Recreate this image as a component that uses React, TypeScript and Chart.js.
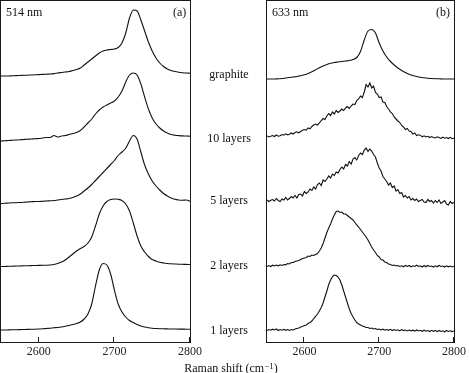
import React, { useEffect, useRef } from "react";
import { Chart, registerables } from "chart.js";

Chart.register(...registerables);

const FONT = '"Liberation Serif", "Times New Roman", serif';
const X_MIN = 2550;
const X_MAX = 2800;
const X_TICKS = [2600, 2700, 2800];
const Y_MAX = 342;

// Raman shift grids (cm-1)
const X5 = [
  2550, 2555, 2560, 2565, 2570, 2575, 2580, 2585, 2590, 2595,
  2600, 2605, 2610, 2615, 2620, 2625, 2630, 2635, 2640, 2645,
  2650, 2655, 2660, 2665, 2670, 2675, 2680, 2685, 2690, 2695,
  2700, 2705, 2710, 2715, 2720, 2725, 2730, 2735, 2740, 2745,
  2750, 2755, 2760, 2765, 2770, 2775, 2780, 2785, 2790, 2795,
  2800,
];
const X25 = [
  2550, 2552.5, 2555, 2557.5, 2560, 2562.5, 2565, 2567.5, 2570, 2572.5,
  2575, 2577.5, 2580, 2582.5, 2585, 2587.5, 2590, 2592.5, 2595, 2597.5,
  2600, 2602.5, 2605, 2607.5, 2610, 2612.5, 2615, 2617.5, 2620, 2622.5,
  2625, 2627.5, 2630, 2632.5, 2635, 2637.5, 2640, 2642.5, 2645, 2647.5,
  2650, 2652.5, 2655, 2657.5, 2660, 2662.5, 2665, 2667.5, 2670, 2672.5,
  2675, 2677.5, 2680, 2682.5, 2685, 2687.5, 2690, 2692.5, 2695, 2697.5,
  2700, 2702.5, 2705, 2707.5, 2710, 2712.5, 2715, 2717.5, 2720, 2722.5,
  2725, 2727.5, 2730, 2732.5, 2735, 2737.5, 2740, 2742.5, 2745, 2747.5,
  2750, 2752.5, 2755, 2757.5, 2760, 2762.5, 2765, 2767.5, 2770, 2772.5,
  2775, 2777.5, 2780, 2782.5, 2785, 2787.5, 2790, 2792.5, 2795, 2797.5,
  2800,
];

// (a) 514 nm — offset intensities (a.u.)
const A_GRAPHITE = [
  266, 266, 266, 266.2, 266.4, 266.5, 266.7, 266.8, 267, 267.2,
  267.4, 267.6, 267.8, 268, 268.4, 269, 269.5, 270, 270.5, 271.5,
  272.5, 274, 277, 280, 283, 286, 289, 291, 292, 292.5,
  293, 294.5, 299, 309, 324, 332, 331, 322, 311, 300,
  291, 284, 279, 275.5, 273, 271.5, 270.5, 269.8, 269.3, 269,
  268.8,
];
const A_10L = [
  201, 201.3, 201.5, 201.8, 202, 202.2, 202.5, 202.8, 203, 203.3,
  203.5, 204, 204.5, 204.5, 206.5, 205, 206, 206.5, 207.5, 208.5,
  209.5, 211.5, 215, 219, 223, 228, 232, 235, 237, 239,
  241, 245, 251, 260, 267, 269, 267, 258, 245, 233,
  224, 218, 214, 211, 209, 207.5, 206.8, 206.4, 206.1, 206,
  205.8,
];
const A_5L = [
  138.5, 138.7, 139, 139.2, 139.3, 139.5, 139.7, 140, 140.2, 140.5,
  140.5, 140.7, 141, 141.2, 141.5, 142, 142.5, 143, 143.5, 144.5,
  146, 148, 151, 154, 157.5, 161.5, 165.5, 169.5, 173.5, 177.5,
  181.5, 186.5, 190, 194, 201, 206.5, 203, 190, 177, 168,
  161, 156, 152, 148.5, 146, 144, 142.7, 142, 141.7, 142,
  140.8,
];
const A_2L = [
  75.5, 75.5, 75.7, 75.8, 76, 76, 76.2, 76.3, 76.4, 76.5,
  76.6, 76.7, 76.8, 77, 77.5, 78.5, 80, 82, 85, 88,
  91, 93.5, 95.5, 99, 105, 116, 128, 136, 140.5, 142.5,
  143, 142.7, 141.5, 138, 131, 119, 106, 96, 90, 85.5,
  82.5, 81, 79.7, 79, 78.5, 78.2, 78, 77.8, 77.7, 77.6,
  77.5,
];
const A_1L = [
  12, 12, 12.1, 12.2, 12.3, 12.4, 12.5, 12.6, 12.7, 12.8,
  13, 13.2, 13.5, 13.8, 14.2, 14.5, 15, 15.7, 16.5, 17.5,
  18.5, 20, 23, 28, 38, 56, 72, 78.5, 77, 68,
  52, 38, 30, 25, 21.5, 19.5, 17.5, 16, 15, 14.3,
  13.8, 13.5, 13.3, 13.2, 13.1, 13, 13, 12.9, 12.9, 12.8,
  12.8,
];

// (b) 633 nm — offset intensities (a.u.)
const B_GRAPHITE = [
  263, 263, 263, 263.2, 263.5, 264, 264.5, 265, 265.5, 266.2,
  267.2, 268.5, 270.2, 272.2, 274.2, 276, 277.5, 278.7, 279.5, 280,
  280.5, 281, 281.5, 282.5, 284.5, 290.5, 302, 311, 312.5, 309,
  299, 291, 285, 280.5, 277, 274, 271.5, 269.5, 267.8, 266.5,
  265.5, 264.7, 264.2, 263.8, 263.5, 263.3, 263.2, 263, 263, 263,
  263,
];
const B_10L = [
  206, 205, 205.8, 206.5, 205.5, 207, 205.8, 206.3, 207.5, 206.8,
  208.2, 207.2, 207.8, 209, 208, 209.5, 210.2, 209.2, 210.5, 211.8,
  212.5, 211.8, 214, 213.2, 215.5, 217, 218, 217, 219, 221.5,
  223.5, 222.5, 226, 228.5, 226.5, 230, 228, 231.5, 229.5, 231,
  233, 231.5, 234, 235.5, 233.5, 236, 238, 237.5, 241.5, 243,
  246, 244.5, 250, 257.5, 255, 259, 254, 256, 249.5, 248,
  244.5, 245, 240, 239.5, 235.5, 233, 230, 228.5, 225, 223,
  221, 219.5, 216.5, 215, 212.5, 213.5, 211, 210.5, 208, 209,
  206.5, 207.2, 206.8, 205.2, 206.2, 205, 205.7, 204.5, 205.5, 204.6,
  204, 205.2, 204.4, 203.6, 204.8, 203.8, 204.5, 203.5, 204.7, 203.4,
  203.8,
];
const B_5L = [
  142, 140.5, 141.8, 142.5, 141, 143.5, 141.5, 140.5, 143, 142,
  144.5, 142, 143.5, 145.5, 144, 146.5, 144, 147.5, 148, 146,
  150.5, 148.5, 150, 153, 151.5, 155, 153, 157.5, 159, 156.5,
  162, 160.5, 163, 166, 164, 168, 166.5, 170, 169, 172.5,
  175, 173, 177.5, 176, 180.5, 178, 183, 184.5, 182, 186.5,
  189, 187.5, 192, 194, 190.5, 193, 191, 187.5, 185, 179,
  174, 171, 165.5, 163, 160.5, 157, 159, 154.5, 156, 151,
  152.5, 148.5, 149.5, 145, 146.5, 144, 145.5, 142, 143.5, 141.5,
  143, 140.5, 141.5, 142.5, 140, 139.5, 142.5, 140.5, 141.5, 139,
  141.5, 139.5, 142, 138.5, 140, 141.5, 138, 137, 140.5, 138.5,
  139.5,
];
const B_2L = [
  75.5, 76.5, 75.5, 76.8, 76, 77, 76.2, 77.2, 76.5, 77.5,
  77.2, 78.5, 78, 79.5, 79.5, 80.5, 81, 81.5, 82.5, 83.5,
  84, 84.5, 86, 85.5, 87, 86.5, 87.5, 88.5, 91, 94,
  98.5, 104, 109.5, 114, 118, 123, 127, 130.5, 131, 129.5,
  130, 128, 128, 126.5, 125, 123.5, 122, 119.5, 117, 115,
  112.5, 110, 107.5, 105, 102, 98.5, 95, 92, 89.5, 86.5,
  85, 82.5, 82, 80, 79.5, 78, 77.5, 76.5, 77, 76,
  76.5, 75.5, 76.2, 75.2, 76.5, 75.5, 76.5, 75.2, 76.2, 75.5,
  76.8, 75.5, 76.2, 75, 76.5, 75.2, 76.5, 75.5, 76, 75,
  76.2, 75.2, 76.5, 75.5, 76, 75, 76.2, 75.2, 76, 75,
  75.8,
];
const B_1L = [
  11.5, 12.5, 11.8, 12.8, 12, 13, 11.5, 12.5, 11.8, 12.7,
  11.7, 12.5, 11.5, 12.5, 12, 13, 13.5, 14, 15, 15.5,
  16.5, 17, 18.5, 19.5, 21, 23.5, 25.5, 28, 31, 34.5,
  39, 45, 51, 57.5, 62, 65.5, 67, 66.5, 65, 62,
  57, 51, 45, 39, 33, 28.5, 25, 22, 19.5, 18,
  17, 16, 15.5, 14.5, 14.5, 13.5, 14, 13, 13.5, 12.5,
  13, 12, 12.8, 11.8, 12.5, 11.7, 12.7, 11.5, 12.5, 11.5,
  12.2, 11.2, 12.4, 11.4, 12, 11, 12, 11.2, 11.8, 10.8,
  12, 11, 11.7, 10.7, 11.8, 10.8, 11.5, 10.5, 11.7, 10.7,
  11.4, 10.4, 11.5, 10.5, 11.2, 10.2, 11.5, 10.5, 11.2, 10.4,
  11,
];

const SAMPLE_LABELS = ["graphite", "10 layers", "5 layers", "2 layers", "1 layers"];
const LABEL_Y = [74, 138, 200, 265, 330];

type Series = { xs: number[]; ys: number[]; smooth: boolean };

const PANEL_A: Series[] = [
  { xs: X5, ys: A_GRAPHITE, smooth: true },
  { xs: X5, ys: A_10L, smooth: true },
  { xs: X5, ys: A_5L, smooth: true },
  { xs: X5, ys: A_2L, smooth: true },
  { xs: X5, ys: A_1L, smooth: true },
];
const PANEL_B: Series[] = [
  { xs: X5, ys: B_GRAPHITE, smooth: true },
  { xs: X25, ys: B_10L, smooth: false },
  { xs: X25, ys: B_5L, smooth: false },
  { xs: X25, ys: B_2L, smooth: false },
  { xs: X25, ys: B_1L, smooth: false },
];

const W = 469;
const H = 373;

const framePlugin = {
  id: "frame",
  afterDraw(chart: any) {
    const { ctx, chartArea: a, scales } = chart;
    const l = Math.round(a.left);
    const r = Math.round(a.right);
    const t = Math.round(a.top);
    const b = Math.round(a.bottom);
    ctx.save();
    ctx.strokeStyle = "#1a1a1a";
    ctx.lineWidth = 1;
    ctx.strokeRect(l - 0.5, t + 0.5, r - l + 1, b - t);
    ctx.beginPath();
    for (const v of X_TICKS) {
      const x = Math.round(scales.x.getPixelForValue(v)) - 0.5;
      ctx.moveTo(x, b + 0.5);
      ctx.lineTo(x, b - 5);
    }
    ctx.stroke();
    ctx.restore();
  },
};

function buildChart(canvas: HTMLCanvasElement, series: Series[], padLeft: number, padRight: number) {
  const datasets = series.map((s) => ({
    data: s.xs.map((x, i) => ({ x, y: s.ys[i] })).filter((p) => p.y !== undefined),
    borderColor: "#111",
    borderWidth: 1.1,
    pointRadius: 0,
    fill: false,
    tension: s.smooth ? 0.4 : 0,
    cubicInterpolationMode: s.smooth ? ("monotone" as const) : ("default" as const),
  }));
  return new Chart(canvas, {
    type: "line",
    data: { datasets },
    options: {
      responsive: false,
      animation: false,
      devicePixelRatio: 1,
      layout: { padding: { left: padLeft, right: padRight, top: 0, bottom: 0 } },
      plugins: { legend: { display: false }, tooltip: { enabled: false } },
      elements: { point: { radius: 0 } },
      scales: {
        x: {
          type: "linear",
          min: X_MIN,
          max: X_MAX,
          afterBuildTicks: (s: any) => {
            s.ticks = X_TICKS.map((value) => ({ value }));
          },
          afterFit: (s: any) => {
            s.height = 31;
          },
          grid: { display: false, drawTicks: false },
          border: { display: false },
          ticks: {
            padding: 3,
            color: "#222",
            autoSkip: false,
            maxRotation: 0,
            font: { family: FONT, size: 12 },
            callback: (v: any) => String(v),
          },
        },
        y: { display: false, min: 0, max: Y_MAX },
      },
    },
    plugins: [framePlugin],
  } as any);
}

export default function App() {
  const refA = useRef<HTMLCanvasElement>(null);
  const refB = useRef<HTMLCanvasElement>(null);

  useEffect(() => {
    const ca = buildChart(refA.current!, PANEL_A, 1, W - 190);
    const cb = buildChart(refB.current!, PANEL_B, 267, W - 456);
    return () => {
      ca.destroy();
      cb.destroy();
    };
  }, []);

  const text: React.CSSProperties = {
    position: "absolute",
    fontFamily: FONT,
    fontSize: 12,
    lineHeight: "14px",
    color: "#111",
    whiteSpace: "nowrap",
  };

  return (
    <div style={{ position: "absolute", left: 0, top: 0, width: W, height: H, overflow: "hidden", background: "#fff" }}>
      <canvas ref={refA} width={W} height={H} style={{ position: "absolute", left: 0, top: 0, width: W, height: H }} />
      <canvas ref={refB} width={W} height={H} style={{ position: "absolute", left: 0, top: 0, width: W, height: H }} />
      <div style={{ ...text, left: 6, top: 5 }}>514 nm</div>
      <div style={{ ...text, left: 173, top: 5 }}>(a)</div>
      <div style={{ ...text, left: 272, top: 5 }}>633 nm</div>
      <div style={{ ...text, left: 436, top: 5 }}>(b)</div>
      {SAMPLE_LABELS.map((s, i) => (
        <div key={s} style={{ ...text, left: 189, width: 80, textAlign: "center", top: LABEL_Y[i] - 7 }}>
          {s}
        </div>
      ))}
      <div style={{ ...text, left: 156, width: 150, textAlign: "center", top: 359 }}>
        Raman shift (cm<span style={{ fontSize: 9, verticalAlign: "3px" }}>−1</span>)
      </div>
    </div>
  );
}
